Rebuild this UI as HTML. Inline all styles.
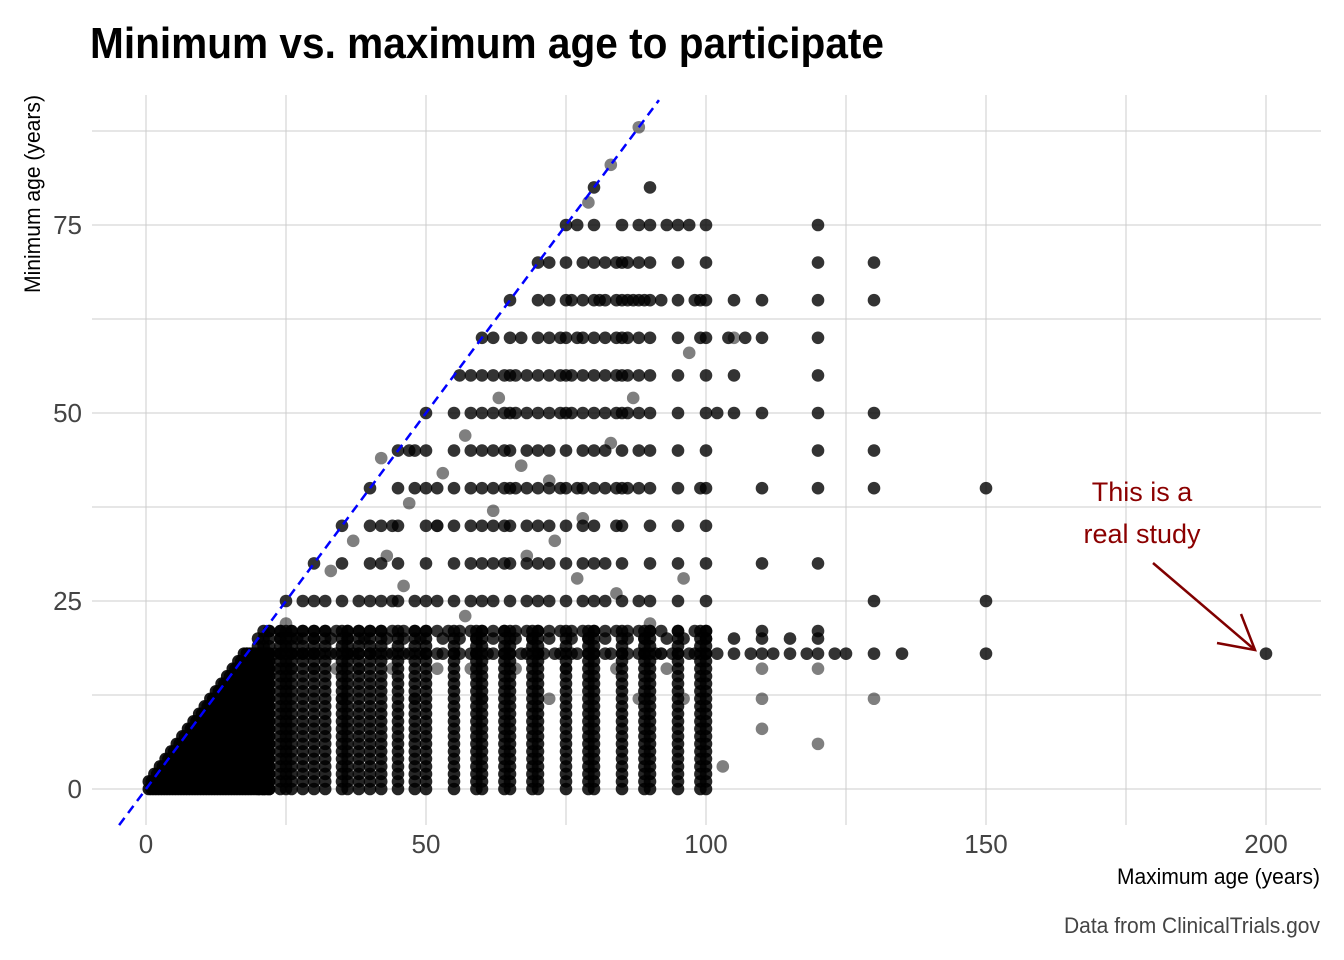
<!DOCTYPE html>
<html><head><meta charset="utf-8">
<style>
html,body{margin:0;padding:0;background:#fff;}
svg{display:block;}
text{font-family:"Liberation Sans Narrow","Liberation Sans",sans-serif;}
</style></head>
<body>
<svg id="chart" width="1344" height="960" viewBox="0 0 1344 960" xmlns="http://www.w3.org/2000/svg">
<text x="90" y="58" font-size="44" font-weight="bold" fill="#000" textLength="794" lengthAdjust="spacingAndGlyphs">Minimum vs. maximum age to participate</text>
<g id="grid"></g>
<g id="points"></g>
<g id="axes"></g>
<text x="1320" y="884" font-size="22" text-anchor="end" fill="#000" textLength="203" lengthAdjust="spacingAndGlyphs">Maximum age (years)</text>
<text transform="translate(40,95) rotate(-90)" font-size="22" text-anchor="end" fill="#000" textLength="198" lengthAdjust="spacingAndGlyphs">Minimum age (years)</text>
<text x="1320" y="933" font-size="22" text-anchor="end" fill="#444" textLength="256" lengthAdjust="spacingAndGlyphs">Data from ClinicalTrials.gov</text>
<g>
<text x="1142" y="501" font-size="27" text-anchor="middle" fill="#8b0000">This is a</text>
<text x="1142" y="543" font-size="27" text-anchor="middle" fill="#8b0000">real study</text>
<line x1="1153" y1="563" x2="1255" y2="650" stroke="#800000" stroke-width="2.5"/>
<polyline points="1241,614 1255,650 1217,643" fill="none" stroke="#800000" stroke-width="2.5"/>
</g>
</svg>
<script>
const xTicks = [0, 50, 100, 150, 200];
const xMinor = [25, 75, 125, 175];
const yTicks = [0, 25, 50, 75];
const yMinor = [12.5, 37.5, 62.5, 87.5];
const childMins = [0,1,2,3,4,5,6,7,8,9,10,11,12,13,14,15,16,17,18,19,20,21];
const triangleMaxes = [1,2,3,4,5,6,7,8,9,10,11,12,13,14,15,16,17,18,19,20,21,22];
const denseColumnMaxes = [20,21,22,24,25,26,28,30,32,35,36,38,40,42,45,48,50,55,59,60,64,65,69,70,75,79,80,85,89,90,95,99,100];
const rowMins = [88,83,80,78,75,70,65,60,55,50,45,40,35,30,25,21,20,18,16,12];
const rowMaxes = [
 [88],[83],[80,90],[79],
 [75,77,80,85,88,90,93,95,97,100,120],
 [70,72,75,78,80,82,84,85,86,88,90,95,100,120,130],
 [65,70,72,75,76,78,80,81,82,84,85,86,87,88,89,90,92,95,98,99,100,105,110,120,130],
 [60,62,65,67,70,72,74,75,77,78,80,82,84,85,86,88,90,95,99,100,104,107,110,120],
 [56,58,60,62,64,65,66,68,70,72,74,75,76,78,80,82,84,85,86,88,90,95,100,105,120],
 [50,55,58,60,62,64,65,66,68,70,72,74,75,76,78,80,82,84,85,86,88,90,95,100,102,105,110,120,130],
 [45,47,48,50,55,58,60,62,64,65,68,70,72,75,78,80,82,85,88,90,95,100,120,130],
 [40,45,48,50,52,55,58,60,62,64,65,66,68,70,72,74,75,77,78,80,82,84,85,86,88,90,95,99,100,110,120,130,150],
 [35,40,42,44,45,50,52,55,58,60,62,64,65,68,70,72,75,78,80,84,85,90,95,100],
 [30,35,40,42,45,50,55,58,60,62,64,65,68,70,72,75,78,80,82,85,90,95,100,110,120],
 [25,28,30,32,35,38,40,42,44,45,48,50,52,55,58,60,62,65,68,70,72,75,78,80,82,85,88,90,95,100,130,150],
 [22,24,26,28,30,32,34,36,38,40,42,44,46,48,50,52,54,56,58,60,62,64,66,68,70,72,74,76,78,80,82,84,86,88,90,92,95,98,100,110,120],
 [24,27,30,33,36,39,43,46,49,53,56,59,62,66,69,72,76,79,82,86,89,93,96,100,105,110,115,120],
 [18,19,20,22,23,24,26,27,28,29,30,31,33,34,36,37,38,40,41,43,44,46,47,49,50,52,53,55,56,58,59,61,62,64,65,67,68,70,71,73,74,76,77,79,80,82,83,85,86,88,89,91,92,94,95,97,98,100,102,105,108,110,112,115,118,120,123,125,130,135,150,200],
 [23,26,30,34,38,44,52,58,66,75,84,93,110,120],
 [35,48,60,72,88,96,110,130]
];
const extraMax = [42,47,53,57,63,67,73,77,83,87,92,97,103,105,110,120,25,33,37,43,46,52,57,62,68,72,78,84,90,96];
const extraMin = [44,38,42,47,52,43,33,28,46,52,18,58,3,60,8,6,22,29,33,31,27,35,23,37,31,41,36,26,22,28];

const svg = document.getElementById('chart');
const NS = 'http://www.w3.org/2000/svg';
const X0 = 146, XS = 5.6, Y0 = 789, YS = 7.52;
const L = 92, R = 1321, T = 95, B = 825;
const xScale = v => X0 + v * XS;
const yScale = v => Y0 - v * YS;

const grid = document.getElementById('grid');
xTicks.concat(xMinor).forEach(v => {
  const l = document.createElementNS(NS, 'line');
  l.setAttribute('x1', xScale(v)); l.setAttribute('x2', xScale(v));
  l.setAttribute('y1', T); l.setAttribute('y2', B);
  l.setAttribute('stroke', '#cccccc'); l.setAttribute('stroke-width', '1');
  
  
  grid.appendChild(l);
});
yTicks.concat(yMinor).forEach(v => {
  const l = document.createElementNS(NS, 'line');
  l.setAttribute('x1', L); l.setAttribute('x2', R);
  l.setAttribute('y1', yScale(v)); l.setAttribute('y2', yScale(v));
  l.setAttribute('stroke', '#cccccc'); l.setAttribute('stroke-width', '1');
  
  
  grid.appendChild(l);
});

const pts = document.getElementById('points');
function dot(mx, mn, a) {
  const c = document.createElementNS(NS, 'circle');
  c.setAttribute('cx', xScale(mx)); c.setAttribute('cy', yScale(mn));
  c.setAttribute('r', '6.3'); c.setAttribute('fill', 'rgba(0,0,0,' + a + ')');
  
  
  pts.appendChild(c);
}
triangleMaxes.forEach(m => childMins.forEach(n => { if (n <= m && n <= 18) { dot(m, n, 0.9); dot(m - 0.5, n, 0.9); } }));
denseColumnMaxes.forEach(m => childMins.forEach(n => { if (n <= m) dot(m, n, 0.85); }));
rowMins.forEach((n, i) => rowMaxes[i].forEach(m => dot(m, n, (n === 88 || n === 83 || n === 78 || n === 16 || n === 12) ? 0.5 : 0.8)));
extraMax.forEach((m, i) => dot(m, extraMin[i], 0.5));

const dl = document.createElementNS(NS, 'line');
dl.setAttribute('x1', xScale(-4.8)); dl.setAttribute('y1', yScale(-4.8));
dl.setAttribute('x2', xScale(91.6)); dl.setAttribute('y2', yScale(91.6));
dl.setAttribute('stroke', '#0000ff'); dl.setAttribute('stroke-width', '2.5');
dl.setAttribute('stroke-dasharray', '9,6');


svg.appendChild(dl);

const axes = document.getElementById('axes');
xTicks.forEach(v => {
  const t = document.createElementNS(NS, 'text');
  t.setAttribute('x', xScale(v)); t.setAttribute('y', 853);
  t.setAttribute('font-size', '26'); t.setAttribute('text-anchor', 'middle'); t.setAttribute('fill', '#444');
  t.textContent = v;
  
  
  axes.appendChild(t);
});
yTicks.forEach(v => {
  const t = document.createElementNS(NS, 'text');
  t.setAttribute('x', 82); t.setAttribute('y', yScale(v) + 9);
  t.setAttribute('font-size', '26'); t.setAttribute('text-anchor', 'end'); t.setAttribute('fill', '#444');
  t.textContent = v;
  
  
  axes.appendChild(t);
});
</script>
</body></html>
